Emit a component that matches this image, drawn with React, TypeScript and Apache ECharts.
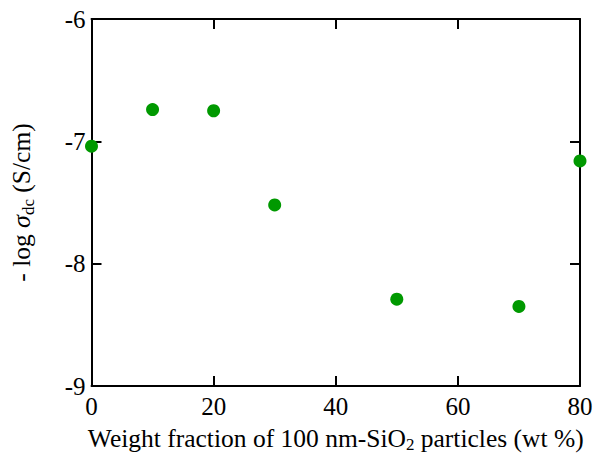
import React, { useEffect, useRef } from "react";
import * as echarts from "echarts";

const weightFraction = [0, 10, 20, 30, 50, 70, 80];
const logSigma = [-7.04, -6.74, -6.75, -7.52, -8.29, -8.35, -7.16];
const xTicks = { min: 0, max: 80, interval: 20 };
const yTicks = { min: -9, max: -6, interval: 1 };

const FONT = "Liberation Serif";

export default function App() {
  const ref = useRef<HTMLDivElement>(null);
  useEffect(() => {
    const chart = echarts.init(ref.current!, null, { renderer: "svg" });
    const axisLine = { show: true, onZero: false, lineStyle: { color: "#000", width: 2 } };
    const axisTick = { show: true, inside: true, length: 10, lineStyle: { color: "#000", width: 2 } };
    const option: any = {
      animation: false,
      backgroundColor: "#fff",
      grid: { left: 91.5, right: 15, top: 19, bottom: 78, outerBoundsMode: "none", containLabel: false },
      xAxis: [
        {
          type: "value",
          position: "bottom",
          ...xTicks,
          axisLine,
          axisTick,
          splitLine: { show: false },
          axisLabel: { color: "#000", fontFamily: FONT, fontSize: 25, margin: 8 },
          name: "Weight fraction of 100 nm-SiO{sub|2} particles (wt %)",
          nameLocation: "middle",
          nameGap: 37,
          nameTextStyle: {
            color: "#000",
            fontFamily: FONT,
            fontSize: 25.5,
            rich: {
              sub: { fontFamily: FONT, fontSize: 17, color: "#000", padding: [13, 0, 0, 0] },
            },
          },
        },
        {
          type: "value",
          position: "top",
          ...xTicks,
          axisLine,
          axisTick,
          splitLine: { show: false },
          axisLabel: { show: false },
        },
      ],
      yAxis: [
        {
          type: "value",
          position: "left",
          ...yTicks,
          axisLine,
          axisTick,
          splitLine: { show: false },
          axisLabel: { color: "#000", fontFamily: FONT, fontSize: 25, margin: 6 },
          name: "- log {s|σ}{sub|dc} (S/cm)",
          nameLocation: "middle",
          nameRotate: 90,
          nameGap: 55,
          nameTextStyle: {
            color: "#000",
            fontFamily: FONT,
            fontSize: 25.5,
            rich: {
              s: { fontFamily: FONT, fontSize: 26, fontStyle: "italic", color: "#000" },
              sub: { fontFamily: FONT, fontSize: 17, color: "#000", padding: [13, 0, 0, 0] },
            },
          },
        },
        {
          type: "value",
          position: "right",
          ...yTicks,
          axisLine,
          axisTick,
          splitLine: { show: false },
          axisLabel: { show: false },
        },
      ],
      series: [
        {
          type: "scatter",
          data: weightFraction.map((x, i) => [x, logSigma[i]]),
          symbol: "circle",
          symbolSize: 13,
          itemStyle: { color: "#009900", opacity: 1 },
          clip: false,
          z: 10,
        },
      ],
    };
    chart.setOption(option);
    return () => chart.dispose();
  }, []);
  return <div ref={ref} style={{ width: 595, height: 464, position: "absolute", left: 0, top: 0 }} />;
}
